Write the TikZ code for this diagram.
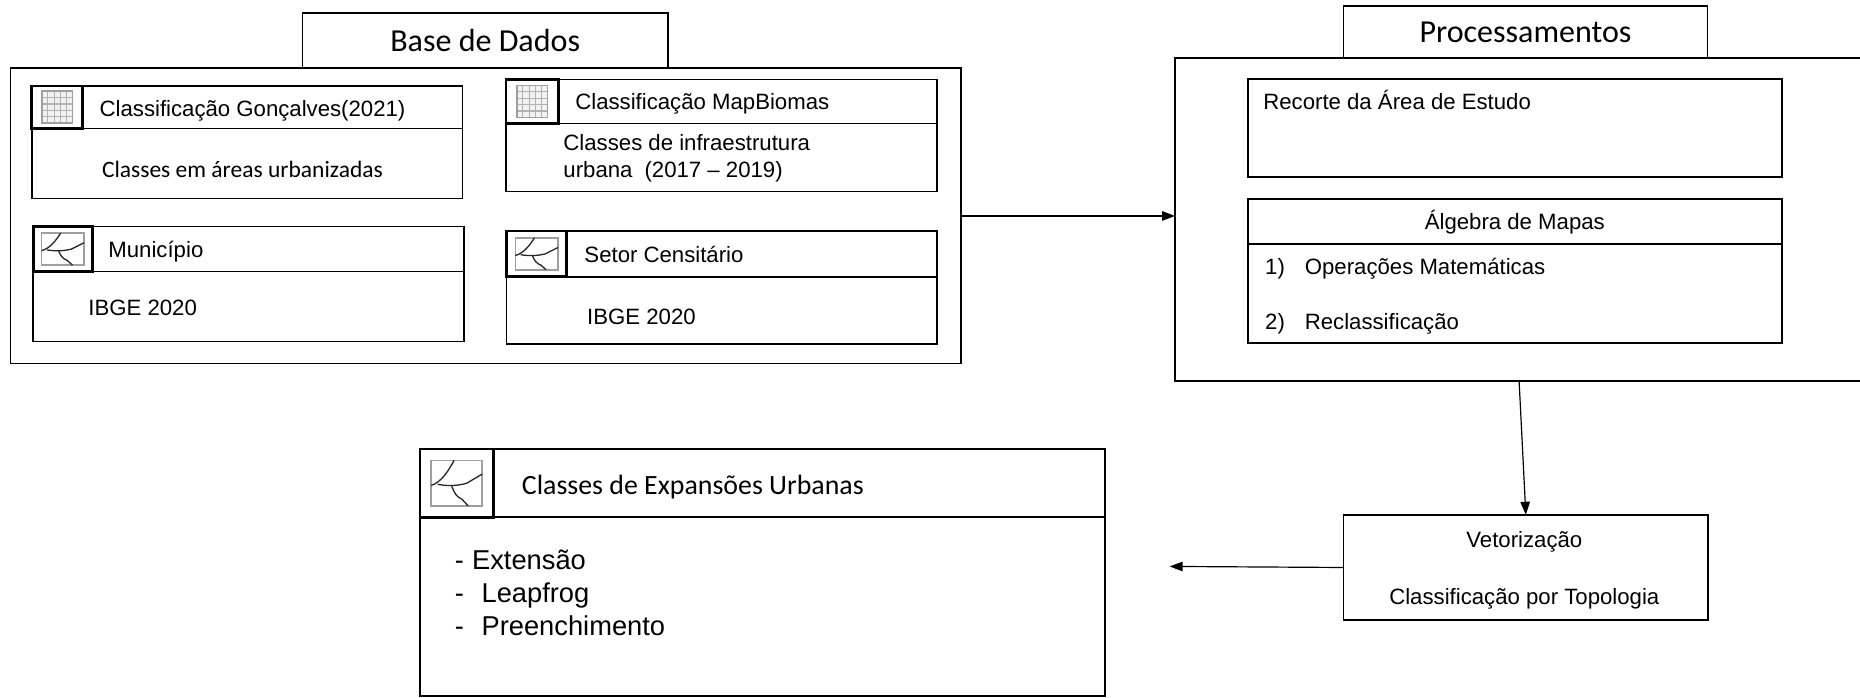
\documentclass[tikz,border=0pt]{standalone}
\usepackage{fontspec}
\setmainfont{Liberation Sans}
\newfontfamily\calib{Carlito}
\usetikzlibrary{arrows.meta}
\begin{document}
\begin{tikzpicture}[x=1pt,y=-1pt,
  bx/.style={draw, line width=1.4pt, inner sep=0pt, outer sep=0pt, anchor=north west},
  icell/.style={draw, line width=2.2pt, inner sep=0pt, outer sep=0pt, anchor=north west},
  txtbase/.style={inner sep=0pt, outer sep=0pt, text depth=0pt},
  ar/.style={txtbase, font=\fontsize{18.7}{22}\selectfont, text height=13.4pt},
  arbig/.style={txtbase, font=\fontsize{23}{27}\selectfont, text height=16.5pt},
  calA/.style={txtbase, font=\calib\fontsize{27}{32}\selectfont, text height=17.4pt},
  calB/.style={txtbase, font=\calib\fontsize{23.5}{28}\selectfont, text height=15.1pt},
  calC/.style={txtbase, font=\calib\fontsize{19.8}{24}\selectfont, text height=12.7pt},
  arw/.style={draw, line width=1pt, -{Triangle[length=11pt,width=8pt]}},
  rast/.pic={
    \fill[gray!10] (-1,-1) rectangle (1,1);
    \foreach \t in {-0.6,-0.2,0.2,0.6}{
      \draw[gray!60, line width=0.9pt] (\t,-1) -- (\t,1);
      \draw[gray!60, line width=0.9pt] (-1,\t) -- (1,\t);
    }
    \draw[gray!75, line width=1.3pt] (-1,-1) rectangle (1,1);
  },
  vect/.pic={
    \draw[gray!75, line width=1.3pt] (-1,-1) rectangle (1,1);
    \draw[gray!30!black, line width=1.1pt] (-0.1,-1) .. controls (-0.35,-0.5) and (-0.6,-0.05) .. (-1,0.1);
    \draw[gray!30!black, line width=1.1pt] (-0.75,0.05) .. controls (-0.3,0.15) and (0.1,0.1) .. (0.4,0) -- (1,-0.4);
    \draw[gray!30!black, line width=1.1pt] (-0.2,0.1) .. controls (-0.1,0.45) and (0,0.6) .. (0.2,0.7) -- (0.45,1);
  }
]
\useasboundingbox (0,0) rectangle (1568,588.4);
\fill[white] (0,0) rectangle (1568,588.4);
\clip (0,0) rectangle (1568,588.4);

% ---------- Base de Dados ----------
\node[bx, minimum width=308pt, minimum height=46.4pt] (tabB) at (255,11.2) {};
\node[calA] (tBase) at (tabB.center) {Base de Dados};
\node[bx, minimum width=801.2pt, minimum height=248.9pt] (baseO) at (8.8,57.6) {};

% Box 1
\node[bx, minimum width=363.3pt, minimum height=35.7pt] (h1) at (26.7,72.5) {};
\node[bx, minimum width=363.3pt, minimum height=59pt] (b1) at (26.7,108.2) {};
\node[icell, minimum width=43pt, minimum height=35.7pt] (c1) at (26.7,72.5) {};
\pic[xscale=13, yscale=13.5] at (c1.center) {rast};
\node[ar, anchor=west] (t1) at (84,91.4) {Classificação Gonçalves(2021)};
\node[calC, anchor=west] (t2) at (86,143.3) {Classes em áreas urbanizadas};

% Box 2
\node[bx, minimum width=363.3pt, minimum height=37.1pt] (h2) at (426.7,66.9) {};
\node[bx, minimum width=363.3pt, minimum height=57.5pt] (b2) at (426.7,104) {};
\node[icell, minimum width=43.9pt, minimum height=37.1pt] (c2) at (426.7,66.9) {};
\pic[xscale=13, yscale=13.5] at (c2.center) {rast};
\node[ar, anchor=west] (t3) at (485,85.7) {Classificação MapBiomas};
\node[ar, anchor=west] (t4) at (475,120) {Classes de infraestrutura};
\node[ar, anchor=west] (t5) at (475,143.3) {urbana\hspace{5pt} (2017 – 2019)};

% Box 3
\node[bx, minimum width=363pt, minimum height=38pt] (h3) at (28,191) {};
\node[bx, minimum width=363pt, minimum height=59pt] (b3) at (28,229) {};
\node[icell, minimum width=50pt, minimum height=38pt] (c3) at (28,191) {};
\pic[xscale=18, yscale=13.5] at (c3.center) {vect};
\node[ar, anchor=west] (t6) at (91.4,210) {Município};
\node[ar, anchor=west] (t7) at (74.5,259) {IBGE 2020};

% Box 4
\node[bx, minimum width=363pt, minimum height=38.5pt] (h4) at (427,194.8) {};
\node[bx, minimum width=363pt, minimum height=56.7pt] (b4) at (427,233.3) {};
\node[icell, minimum width=50.8pt, minimum height=38.5pt] (c4) at (427,194.8) {};
\pic[xscale=18, yscale=13.5] at (c4.center) {vect};
\node[ar, anchor=west] (t8) at (492.7,214.2) {Setor Censitário};
\node[ar, anchor=west] (t9) at (495,267) {IBGE 2020};

% ---------- Processamentos ----------
\node[bx, minimum width=306.8pt, minimum height=44pt] (tabP) at (1132.6,5) {};
\node[calA] (tProc) at (tabP.center) {Processamentos};
\node[bx, minimum width=580pt, minimum height=272pt] (procO) at (990.6,49) {};

\node[bx, minimum width=450pt, minimum height=82.4pt] (rec) at (1052,66.6) {};
\node[ar, anchor=west] (t10) at (1065,85.7) {Recorte da Área de Estudo};

\node[bx, minimum width=450pt, minimum height=37.5pt] (alh) at (1052,168) {};
\node[bx, minimum width=450pt, minimum height=83.5pt] (alb) at (1052,205.5) {};
\node[ar] (t11) at (alh.center) {Álgebra de Mapas};
\node[ar, anchor=west] (n1) at (1066.6,224.5) {1)};
\node[ar, anchor=west] (t12) at (1100,224.5) {Operações Matemáticas};
\node[ar, anchor=west] (n2) at (1066.6,271) {2)};
\node[ar, anchor=west] (t13) at (1100,271) {Reclassificação};

% ---------- Vetorização ----------
\node[bx, minimum width=307.4pt, minimum height=88.8pt] (vet) at (1132.6,434) {};
\node[ar] (t14) at (1285,454.6) {Vetorização};
\node[ar] (t15) at (1285,503) {Classificação por Topologia};

% ---------- Classes de Expansões Urbanas ----------
\node[bx, minimum width=577.4pt, minimum height=57.4pt] (ch) at (354,378.6) {};
\node[bx, minimum width=577.4pt, minimum height=150.5pt] (cb) at (354,436) {};
\node[icell, minimum width=62pt, minimum height=57.4pt] (cc) at (354,378.6) {};
\pic[xscale=21.5, yscale=19.2] at (cc.center) {vect};
\node[calB, anchor=west] (t16) at (440,409) {Classes de Expansões Urbanas};
\node[arbig, anchor=west] (d1) at (383.5,472) {-};
\node[arbig, anchor=west] (l1) at (398,472) {Extensão};
\node[arbig, anchor=west] (d2) at (383.5,500) {-};
\node[arbig, anchor=west] (l2) at (406,500) {Leapfrog};
\node[arbig, anchor=west] (d3) at (383.5,527.5) {-};
\node[arbig, anchor=west] (l3) at (406,527.5) {Preenchimento};

% ---------- connectors ----------
\coordinate (aend) at (986,477.5);
\draw[arw] (baseO.east) -- (baseO.east -| procO.west);
\draw[arw] (procO.south) -- (vet.north);
\draw[arw] (vet.west) -- (aend);
\end{tikzpicture}
\end{document}
